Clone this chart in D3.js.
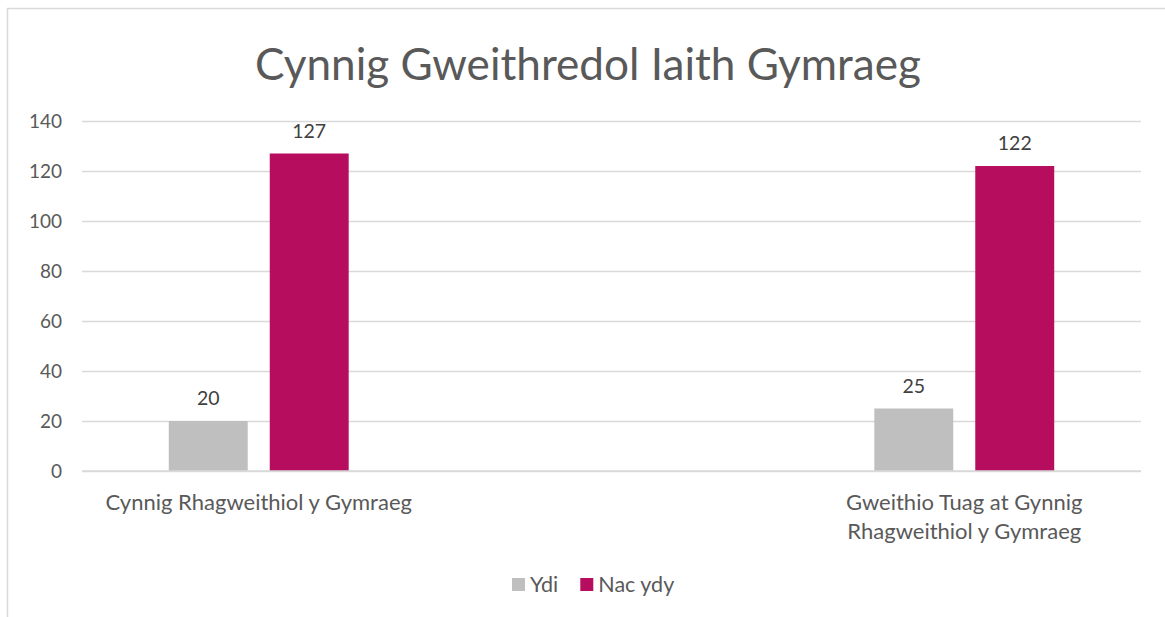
<!DOCTYPE html>
<html>
<head>
<meta charset="utf-8">
<script src="https://cdn.jsdelivr.net/npm/d3@7"></script>
<style>
  html, body { margin: 0; padding: 0; background: #ffffff; }
  svg { display: block; }
  text { font-family: Lato, "Open Sans", sans-serif; }
</style>
</head>
<body>
<svg id="chart" width="1165" height="617"></svg>
<script>
// ---- data ----
const title = "Cynnig Gweithredol Iaith Gymraeg";
const categories = ["Cynnig Rhagweithiol y Gymraeg", "Gweithio Tuag at Gynnig Rhagweithiol y Gymraeg"];
const seriesNames = ["Ydi", "Nac ydy"];
const ydiValues = [20, 25];
const nacYdyValues = [127, 122];
const yTicks = [0, 20, 40, 60, 80, 100, 120, 140];

// ---- styles / layout ----
const W = 1165, H = 617;
const margin = { left: 82, right: 24, top: 121, bottom: 146 };
const colors = { "Ydi": "#bfbfbf", "Nac ydy": "#b70d5e" };
const gridColor = "#d9d9d9";
const axisText = "#595959";
const labelText = "#404040";

const svg = d3.select("#chart");

// outer chart border (extends past right/bottom edges as in reference)
svg.append("rect")
  .attr("x", 7.5).attr("y", 8.5)
  .attr("width", W + 20).attr("height", H + 20)
  .attr("fill", "#ffffff")
  .attr("stroke", gridColor).attr("stroke-width", 1.5);

const x0 = margin.left, x1 = W - margin.right;
const yTop = margin.top, yBot = H - margin.bottom;

const x = d3.scaleBand().domain(categories).range([x0, x1])
  .paddingInner(0.745).paddingOuter(0.123);
const xs = d3.scaleBand().domain(seriesNames).range([0, x.bandwidth()])
  .paddingInner(0.218).paddingOuter(0);
const y = d3.scaleLinear().domain([0, 140]).range([yBot, yTop]);

// title
const titleSel = svg.append("text")
  .attr("x", 588).attr("y", 80)
  .attr("text-anchor", "middle")
  .attr("fill", axisText)
  .style("font-size", "44px")
  .text(title);
(function fit(sel, target) {
  const w = sel.node().getComputedTextLength();
  const fs = parseFloat(sel.style("font-size"));
  sel.style("font-size", (fs * target / w) + "px");
})(titleSel, 666);

// gridlines + y axis
const yAxis = d3.axisLeft(y).tickValues(yTicks).tickSize(-(x1 - x0)).tickPadding(20);
const gy = svg.append("g").attr("transform", `translate(${x0},0)`).call(yAxis);
gy.select(".domain").remove();
gy.selectAll(".tick line").attr("stroke", gridColor).attr("stroke-width", 1.5);
gy.selectAll(".tick text")
  .attr("fill", axisText)
  .style("font-size", "19px");

// bars
const data = categories.map((c, i) => ({
  category: c,
  values: [
    { series: "Ydi", value: ydiValues[i] },
    { series: "Nac ydy", value: nacYdyValues[i] }
  ]
}));

const groups = svg.append("g").selectAll("g").data(data).join("g")
  .attr("transform", d => `translate(${x(d.category)},0)`);

groups.selectAll("rect").data(d => d.values).join("rect")
  .attr("x", d => xs(d.series))
  .attr("width", xs.bandwidth())
  .attr("y", d => y(d.value))
  .attr("height", d => y(0) - y(d.value))
  .attr("fill", d => colors[d.series]);

groups.selectAll("text.val").data(d => d.values).join("text")
  .attr("class", "val")
  .attr("x", d => xs(d.series) + xs.bandwidth() / 2)
  .attr("y", d => y(d.value) - 16)
  .attr("text-anchor", "middle")
  .attr("fill", labelText)
  .style("font-size", "19.5px")
  .text(d => d.value);

// category axis labels (wrapped)
const xAxis = d3.axisBottom(x).tickSize(0).tickPadding(0);
const gx = svg.append("g").attr("transform", `translate(0,${yBot})`).call(xAxis);
gx.select(".domain").remove();
gx.selectAll(".tick text")
  .attr("fill", axisText)
  .style("font-size", "22px")
  .attr("y", 39)
  .attr("dy", 0)
  .each(function (d) {
    const t = d3.select(this);
    const words = d.split(" ");
    t.text(null);
    const maxW = 330;
    let line = [];
    let tspan = t.append("tspan").attr("x", 0).attr("y", 39);
    let lineNo = 0;
    for (const w of words) {
      line.push(w);
      tspan.text(line.join(" "));
      if (tspan.node().getComputedTextLength() > maxW && line.length > 1) {
        line.pop();
        tspan.text(line.join(" "));
        line = [w];
        lineNo++;
        tspan = t.append("tspan").attr("x", 0).attr("y", 39 + lineNo * 29).text(w);
      }
    }
  });

// baseline axis line
svg.append("line")
  .attr("x1", x0).attr("x2", x1)
  .attr("y1", y(0)).attr("y2", y(0))
  .attr("stroke", gridColor).attr("stroke-width", 1.5);

// legend
const legend = svg.append("g").attr("transform", "translate(512,578)");
let lx = 0;
seriesNames.forEach(name => {
  const g = legend.append("g").attr("transform", `translate(${lx},0)`);
  g.append("rect").attr("width", 13).attr("height", 13).attr("fill", colors[name]);
  const t = g.append("text").attr("x", 18).attr("y", 14)
    .attr("fill", axisText).style("font-size", "21.5px").text(name);
  lx += 18 + t.node().getComputedTextLength() + 22;
});
</script>
</body>
</html>
